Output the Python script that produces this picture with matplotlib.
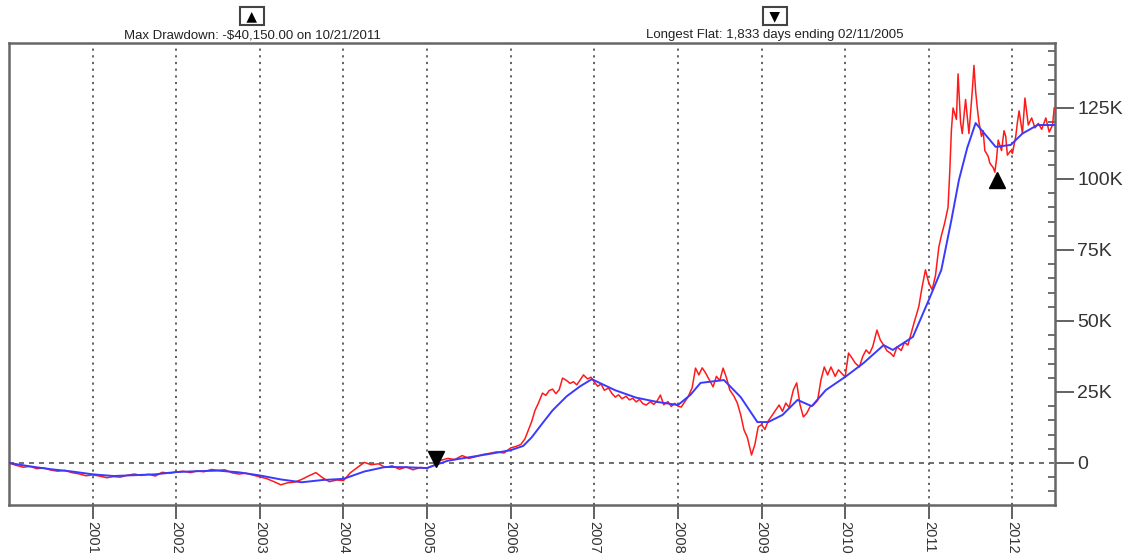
import matplotlib.pyplot as plt
from matplotlib.ticker import MultipleLocator

# equity curve (red), decimal years and thousands of dollars
red_t = [2000.00, 2000.08, 2000.17, 2000.25, 2000.33, 2000.42, 2000.50, 2000.58, 2000.67, 2000.75, 2000.83, 2000.92,
         2001.00, 2001.08, 2001.17, 2001.25, 2001.33, 2001.42, 2001.50, 2001.58, 2001.67, 2001.75, 2001.83, 2001.92,
         2002.00, 2002.08, 2002.17, 2002.25, 2002.33, 2002.42, 2002.50, 2002.58, 2002.67, 2002.75, 2002.83, 2002.92,
         2003.00, 2003.08, 2003.17, 2003.25, 2003.33, 2003.42, 2003.50, 2003.58, 2003.67, 2003.75, 2003.83, 2003.92,
         2004.00, 2004.08, 2004.17, 2004.25, 2004.33, 2004.42, 2004.50, 2004.58, 2004.67, 2004.75, 2004.83, 2004.92,
         2005.00, 2005.08, 2005.12, 2005.17, 2005.25, 2005.33, 2005.42, 2005.50, 2005.58, 2005.67, 2005.75, 2005.83, 2005.92,
         2006.00, 2006.06, 2006.12, 2006.17, 2006.21, 2006.25, 2006.29, 2006.33, 2006.38, 2006.42, 2006.46, 2006.50,
         2006.54, 2006.58, 2006.62, 2006.67, 2006.71, 2006.75, 2006.79, 2006.83, 2006.87, 2006.92, 2006.96,
         2007.00, 2007.04, 2007.08, 2007.12, 2007.17, 2007.21, 2007.25, 2007.29, 2007.33, 2007.38, 2007.42, 2007.46,
         2007.50, 2007.54, 2007.58, 2007.62, 2007.67, 2007.71, 2007.75, 2007.79, 2007.83, 2007.88, 2007.92, 2007.96,
         2008.00, 2008.04, 2008.08, 2008.12, 2008.17, 2008.21, 2008.25, 2008.29, 2008.33, 2008.38, 2008.42, 2008.46,
         2008.50, 2008.54, 2008.58, 2008.62, 2008.67, 2008.71, 2008.75, 2008.79, 2008.83, 2008.88, 2008.92, 2008.96,
         2009.00, 2009.04, 2009.08, 2009.12, 2009.17, 2009.21, 2009.25, 2009.29, 2009.33, 2009.38, 2009.42, 2009.46,
         2009.50, 2009.54, 2009.58, 2009.62, 2009.67, 2009.71, 2009.75, 2009.79, 2009.83, 2009.88, 2009.92, 2009.96,
         2010.00, 2010.04, 2010.08, 2010.12, 2010.17, 2010.21, 2010.25, 2010.29, 2010.33, 2010.38, 2010.42, 2010.46,
         2010.50, 2010.54, 2010.58, 2010.62, 2010.67, 2010.71, 2010.75, 2010.79, 2010.83, 2010.88, 2010.92, 2010.96,
         2011.00, 2011.04, 2011.08, 2011.12, 2011.15, 2011.19, 2011.23, 2011.25, 2011.27, 2011.29, 2011.33, 2011.35,
         2011.38, 2011.40, 2011.44, 2011.46, 2011.48, 2011.52, 2011.54, 2011.56, 2011.58, 2011.60, 2011.63, 2011.65,
         2011.67, 2011.71, 2011.73, 2011.77, 2011.79, 2011.81, 2011.83, 2011.87, 2011.90, 2011.92, 2011.94, 2011.98,
         2012.00, 2012.04, 2012.06, 2012.08, 2012.12, 2012.15, 2012.19, 2012.23, 2012.27, 2012.31, 2012.35, 2012.40,
         2012.44, 2012.48, 2012.50]
red_k = [0.0, -0.8, -1.5, -1.2, -2.0, -1.8, -2.5, -2.9, -2.6, -3.4, -3.8, -4.5,
         -4.2, -4.6, -5.2, -4.8, -5.0, -4.3, -3.9, -4.4, -4.0, -4.6, -3.3, -3.6,
         -3.2, -2.9, -3.4, -2.8, -3.1, -2.3, -2.6, -2.4, -3.5, -3.9, -3.6, -4.3,
         -4.9, -5.5, -6.6, -7.7, -7.0, -6.7, -5.8, -4.6, -3.4, -5.2, -6.6, -6.0,
         -6.2, -3.5, -1.5, 0.2, -0.6, -0.3, -1.6, -1.0, -2.2, -1.4, -2.4, -1.6,
         -1.8, -0.8, 0.4, 1.0, 1.6, 1.2, 2.6, 1.6, 2.2, 3.0, 3.4, 3.9, 3.5,
         5.3, 5.8, 6.5, 8.5, 11.5, 14.5, 18.5, 21.0, 24.6, 23.8, 25.5, 26.0,
         24.4, 25.8, 29.9, 29.0, 28.0, 28.6, 27.5, 29.2, 31.0, 29.6, 30.2,
         28.5, 27.0, 27.8, 25.6, 26.4, 24.5, 23.2, 24.0, 22.6, 23.5, 22.2, 22.8,
         21.5, 22.4, 20.9, 20.4, 21.6, 20.6, 21.8, 23.9, 20.5, 21.6, 19.9, 21.0,
         20.0, 19.7, 21.5, 23.2, 26.5, 33.4, 31.0, 33.5, 31.7, 29.0, 26.8, 30.5,
         29.0, 33.4, 30.0, 25.7, 23.5, 21.1, 17.0, 11.6, 9.0, 2.8, 6.5, 12.7,
         13.5, 11.8, 14.8, 16.5, 18.7, 20.4, 18.2, 21.1, 19.5, 25.7, 28.2, 20.5,
         16.2, 17.5, 19.8, 20.4, 22.0, 29.2, 33.8, 31.0, 33.8, 30.5, 32.8, 31.5,
         30.3, 38.7, 37.0, 35.2, 33.8, 37.5, 39.8, 38.5, 41.0, 46.8, 43.3, 41.5,
         39.5, 38.7, 37.5, 40.9, 39.6, 42.5, 41.5, 45.8, 50.0, 55.0, 62.0, 68.0,
         63.4, 61.0, 66.0, 76.0, 80.0, 84.5, 90.0, 102.0, 117.0, 125.0, 121.0, 137.0,
         120.0, 116.0, 128.0, 122.0, 116.0, 131.0, 140.0, 131.0, 125.0, 120.0, 115.0, 117.0,
         110.0, 108.0, 105.6, 104.0, 102.4, 107.0, 113.7, 110.0, 117.0, 115.0, 108.4, 110.0,
         109.0, 115.0, 120.0, 124.0, 116.0, 128.5, 119.0, 121.5, 118.0, 119.6, 117.5, 121.5,
         116.5, 119.0, 125.0]

# smoothed curve (blue)
blue_t = [2000.00, 2000.25, 2000.50, 2000.75, 2001.00, 2001.25, 2001.50, 2001.75, 2002.00, 2002.25, 2002.50, 2002.75,
          2003.00, 2003.25, 2003.50, 2003.75, 2004.00, 2004.25, 2004.50, 2004.75, 2005.00, 2005.11, 2005.25, 2005.50,
          2005.75, 2006.00, 2006.15, 2006.25, 2006.38, 2006.50, 2006.67, 2006.83, 2006.97, 2007.25, 2007.50, 2007.75,
          2008.00, 2008.15, 2008.27, 2008.55, 2008.75, 2008.95, 2009.08, 2009.25, 2009.43, 2009.60, 2009.77, 2010.00,
          2010.22, 2010.46, 2010.57, 2010.81, 2011.00, 2011.15, 2011.27, 2011.36, 2011.46, 2011.56, 2011.68, 2011.80,
          2011.98, 2012.12, 2012.30, 2012.50]
blue_k = [0.0, -1.2, -2.2, -3.0, -4.0, -4.6, -4.3, -4.0, -3.2, -2.9, -2.7, -3.3,
          -4.4, -5.8, -6.8, -6.0, -5.6, -3.0, -1.4, -1.5, -1.8, -0.6, 0.8, 2.0,
          3.2, 4.5, 6.0, 9.0, 14.0, 18.5, 23.5, 27.0, 29.5, 25.6, 23.0, 21.5,
          20.4, 24.0, 28.2, 29.2, 23.2, 14.4, 14.4, 16.9, 22.2, 20.0, 25.7, 30.3,
          35.2, 41.5, 39.8, 44.4, 57.4, 68.0, 85.5, 99.6, 111.0, 119.7, 115.5, 111.3,
          112.0, 116.0, 119.0, 119.0]

year_ticks = [2001, 2002, 2003, 2004, 2005, 2006, 2007, 2008, 2009, 2010, 2011, 2012]
y_ticks = [0, 25, 50, 75, 100, 125]
y_labels = ['0', '25K', '50K', '75K', '100K', '125K']

flat_t, flat_k = 2005.11, 1.4
dd_t, dd_k = 2011.81, 99.6
dd_text = 'Max Drawdown: -$40,150.00 on 10/21/2011'
flat_text = 'Longest Flat: 1,833 days ending 02/11/2005'

plt.rcParams['font.family'] = ['Liberation Sans', 'DejaVu Sans']

fig = plt.figure(figsize=(11.29, 5.58), dpi=100)
ax = fig.add_axes([0.008, 0.095, 0.9265, 0.828])

ax.plot(red_t, red_k, color='#ff1a1a', lw=1.1, zorder=3)
ax.plot(blue_t, blue_k, color='#3a3aff', lw=1.4, zorder=4)

ax.plot([flat_t], [flat_k], marker='v', color='black', ms=11, zorder=5)
ax.plot([dd_t], [dd_k], marker='^', color='black', ms=11, zorder=5)

ax.set_xlim(2000.0, 2012.51)
ax.set_ylim(-14.8, 147.9)

for yr in year_ticks:
    ax.axvline(yr, color='#555555', lw=1.3, linestyle=(0, (1.2, 2.5)), zorder=1)
ax.axhline(0, color='#555555', lw=1.2, linestyle=(0, (3, 3)), zorder=1)

ax.set_xticks(year_ticks)
ax.set_xticklabels([str(y) for y in year_ticks], rotation=-90, fontsize=10.5, color='#333333')
ax.tick_params(axis='x', direction='out', length=10, width=1.3, color='#555555', pad=1.5)

ax.yaxis.tick_right()
ax.set_yticks(y_ticks)
ax.set_yticklabels(y_labels, fontsize=14, color='#333333')
ax.yaxis.set_minor_locator(MultipleLocator(5))
ax.tick_params(axis='y', which='major', direction='out', length=14, width=1.3, color='#555555', pad=2)
ax.tick_params(axis='y', which='minor', direction='in', length=5, width=1.2, color='#555555')

for s in ax.spines.values():
    s.set_color('#666666')
    s.set_linewidth(1.8)

# header annotations
box = dict(boxstyle='square,pad=0.15', fc='white', ec='#444444', lw=1.5)
fig.text(252 / 1129, 1 - 16 / 558, ' \u25B2 ', ha='center', va='center', fontsize=10,
         family=['DejaVu Sans'], bbox=box)
fig.text(252 / 1129, 1 - 35 / 558, dd_text, ha='center', va='center', fontsize=9.5, color='#222222')
fig.text(775 / 1129, 1 - 16 / 558, ' \u25BC ', ha='center', va='center', fontsize=10,
         family=['DejaVu Sans'], bbox=box)
fig.text(775 / 1129, 1 - 35 / 558, flat_text, ha='center', va='center', fontsize=9.5, color='#222222')

fig.savefig('out.png', dpi=100)
